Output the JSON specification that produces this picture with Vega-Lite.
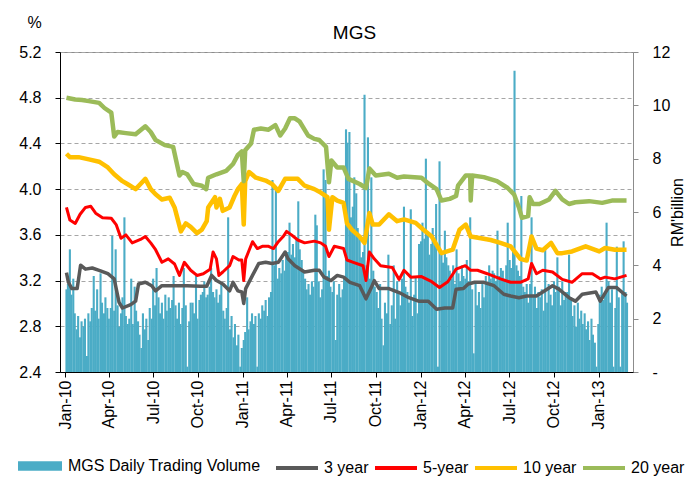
{
"$schema": "https://vega.github.io/schema/vega-lite/v6.json",
"width": 573,
"height": 320,
"autosize": {"type": "none"},
"padding": {"left": 60, "top": 52, "right": 52, "bottom": 116},
"background": "#ffffff",
"config": {
  "font": "Liberation Sans",
  "view": {"stroke": "#8c8c8c", "strokeWidth": 1},
  "axis": {"labelFont": "Liberation Sans", "labelFontSize": 16, "labelColor": "#000000", "titleFont": "Liberation Sans", "titleFontSize": 16, "titleFontWeight": "normal", "titleColor": "#000000"},
  "legend": {"labelFont": "Liberation Sans", "labelFontSize": 16, "labelColor": "#000000", "padding": 0, "labelLimit": 400}
},
"title": {"text": "MGS", "fontSize": 19, "fontWeight": "normal", "font": "Liberation Sans", "color": "#000000", "anchor": "middle", "frame": "group", "offset": 10, "dx": 8, "dy": 39},
"datasets": {
"vol": [
{"d":"2010-01-04","v":3.1},{"d":"2010-01-07","v":3.3},{"d":"2010-01-11","v":4.6},{"d":"2010-01-14","v":2.9},{"d":"2010-01-18","v":3.5},{"d":"2010-01-21","v":2.2},{"d":"2010-01-25","v":1.6},{"d":"2010-01-28","v":2.1},
{"d":"2010-02-01","v":1.3},{"d":"2010-02-04","v":1.9},{"d":"2010-02-08","v":1.7},{"d":"2010-02-11","v":2.0},{"d":"2010-02-15","v":0.6},{"d":"2010-02-18","v":2.2},{"d":"2010-02-22","v":1.9},{"d":"2010-02-25","v":2.4},
{"d":"2010-03-01","v":3.6},{"d":"2010-03-04","v":2.3},{"d":"2010-03-08","v":3.1},{"d":"2010-03-11","v":2.0},{"d":"2010-03-15","v":3.7},{"d":"2010-03-18","v":2.6},{"d":"2010-03-22","v":2.2},{"d":"2010-03-25","v":2.8},{"d":"2010-03-29","v":2.4},
{"d":"2010-04-01","v":2.0},{"d":"2010-04-05","v":2.4},{"d":"2010-04-08","v":5.1},{"d":"2010-04-12","v":2.3},{"d":"2010-04-15","v":4.6},{"d":"2010-04-19","v":2.5},{"d":"2010-04-22","v":1.7},{"d":"2010-04-26","v":2.2},{"d":"2010-04-29","v":2.8},
{"d":"2010-05-03","v":5.8},{"d":"2010-05-06","v":2.1},{"d":"2010-05-10","v":1.8},{"d":"2010-05-13","v":2.0},{"d":"2010-05-17","v":3.5},{"d":"2010-05-20","v":1.8},{"d":"2010-05-24","v":3.2},{"d":"2010-05-27","v":2.3},{"d":"2010-05-31","v":1.9},
{"d":"2010-06-03","v":1.4},{"d":"2010-06-07","v":0.9},{"d":"2010-06-10","v":2.2},{"d":"2010-06-14","v":1.6},{"d":"2010-06-17","v":2.0},{"d":"2010-06-21","v":1.2},{"d":"2010-06-24","v":2.4},{"d":"2010-06-28","v":2.0},
{"d":"2010-07-01","v":3.5},{"d":"2010-07-05","v":2.5},{"d":"2010-07-08","v":3.9},{"d":"2010-07-12","v":2.8},{"d":"2010-07-15","v":2.2},{"d":"2010-07-19","v":2.6},{"d":"2010-07-22","v":2.0},{"d":"2010-07-26","v":2.9},{"d":"2010-07-29","v":2.3},
{"d":"2010-08-02","v":2.8},{"d":"2010-08-05","v":2.4},{"d":"2010-08-09","v":2.7},{"d":"2010-08-12","v":3.6},{"d":"2010-08-16","v":2.5},{"d":"2010-08-19","v":2.0},{"d":"2010-08-23","v":2.6},{"d":"2010-08-26","v":1.8},{"d":"2010-08-30","v":2.4},
{"d":"2010-09-02","v":3.9},{"d":"2010-09-06","v":2.5},{"d":"2010-09-09","v":0.2},{"d":"2010-09-13","v":1.9},{"d":"2010-09-16","v":2.6},{"d":"2010-09-20","v":2.6},{"d":"2010-09-23","v":2.2},{"d":"2010-09-27","v":3.6},{"d":"2010-09-30","v":2.0},
{"d":"2010-10-04","v":2.7},{"d":"2010-10-07","v":2.9},{"d":"2010-10-11","v":3.0},{"d":"2010-10-14","v":3.4},{"d":"2010-10-18","v":2.8},{"d":"2010-10-21","v":2.9},{"d":"2010-10-25","v":3.2},{"d":"2010-10-28","v":3.9},
{"d":"2010-11-01","v":3.0},{"d":"2010-11-04","v":2.8},{"d":"2010-11-08","v":3.1},{"d":"2010-11-11","v":2.6},{"d":"2010-11-15","v":2.9},{"d":"2010-11-18","v":3.3},{"d":"2010-11-22","v":2.3},{"d":"2010-11-25","v":2.0},{"d":"2010-11-29","v":2.4},
{"d":"2010-12-02","v":5.8},{"d":"2010-12-06","v":1.6},{"d":"2010-12-09","v":2.1},{"d":"2010-12-13","v":1.3},{"d":"2010-12-16","v":1.8},{"d":"2010-12-20","v":1.0},{"d":"2010-12-23","v":1.4},{"d":"2010-12-27","v":0.2},{"d":"2010-12-30","v":0.9},
{"d":"2011-01-03","v":1.2},{"d":"2011-01-06","v":1.5},{"d":"2011-01-10","v":2.8},{"d":"2011-01-13","v":1.6},{"d":"2011-01-17","v":1.9},{"d":"2011-01-20","v":2.2},{"d":"2011-01-24","v":1.8},{"d":"2011-01-27","v":2.1},{"d":"2011-01-31","v":0.2},
{"d":"2011-02-03","v":2.2},{"d":"2011-02-07","v":2.0},{"d":"2011-02-10","v":2.5},{"d":"2011-02-14","v":2.3},{"d":"2011-02-17","v":2.7},{"d":"2011-02-21","v":2.1},{"d":"2011-02-24","v":2.8},{"d":"2011-02-28","v":3.0},
{"d":"2011-03-03","v":7.2},{"d":"2011-03-07","v":4.0},{"d":"2011-03-10","v":6.9},{"d":"2011-03-14","v":3.5},{"d":"2011-03-17","v":3.9},{"d":"2011-03-21","v":3.7},{"d":"2011-03-24","v":4.2},{"d":"2011-03-28","v":3.8},{"d":"2011-03-31","v":4.4},
{"d":"2011-04-04","v":4.5},{"d":"2011-04-07","v":5.6},{"d":"2011-04-11","v":4.4},{"d":"2011-04-14","v":4.8},{"d":"2011-04-18","v":4.3},{"d":"2011-04-21","v":5.0},{"d":"2011-04-25","v":6.4},{"d":"2011-04-28","v":4.6},
{"d":"2011-05-02","v":4.2},{"d":"2011-05-05","v":3.8},{"d":"2011-05-09","v":3.5},{"d":"2011-05-12","v":3.1},{"d":"2011-05-16","v":3.3},{"d":"2011-05-19","v":2.9},{"d":"2011-05-23","v":3.4},{"d":"2011-05-26","v":3.2},{"d":"2011-05-30","v":5.9},
{"d":"2011-06-02","v":5.5},{"d":"2011-06-06","v":3.4},{"d":"2011-06-09","v":2.8},{"d":"2011-06-13","v":3.1},{"d":"2011-06-16","v":7.6},{"d":"2011-06-20","v":7.2},{"d":"2011-06-23","v":3.6},{"d":"2011-06-27","v":3.8},{"d":"2011-06-30","v":3.2},
{"d":"2011-07-04","v":3.0},{"d":"2011-07-07","v":3.4},{"d":"2011-07-11","v":1.2},{"d":"2011-07-14","v":2.9},{"d":"2011-07-18","v":3.3},{"d":"2011-07-21","v":2.8},{"d":"2011-07-25","v":3.1},{"d":"2011-07-28","v":3.5},
{"d":"2011-08-01","v":9.1},{"d":"2011-08-04","v":8.6},{"d":"2011-08-08","v":9.0},{"d":"2011-08-11","v":5.8},{"d":"2011-08-15","v":6.2},{"d":"2011-08-18","v":7.3},{"d":"2011-08-22","v":6.7},{"d":"2011-08-25","v":5.4},{"d":"2011-08-29","v":5.0},
{"d":"2011-09-01","v":4.3},{"d":"2011-09-05","v":4.5},{"d":"2011-09-08","v":10.4},{"d":"2011-09-12","v":4.0},{"d":"2011-09-15","v":8.8},{"d":"2011-09-19","v":3.5},{"d":"2011-09-22","v":7.3},{"d":"2011-09-26","v":3.8},{"d":"2011-09-29","v":3.2},
{"d":"2011-10-03","v":3.0},{"d":"2011-10-06","v":2.4},{"d":"2011-10-10","v":3.3},{"d":"2011-10-13","v":2.0},{"d":"2011-10-17","v":1.0},{"d":"2011-10-20","v":2.6},{"d":"2011-10-24","v":2.2},{"d":"2011-10-27","v":4.4},{"d":"2011-10-31","v":1.8},
{"d":"2011-11-03","v":2.5},{"d":"2011-11-07","v":4.0},{"d":"2011-11-10","v":2.0},{"d":"2011-11-14","v":3.4},{"d":"2011-11-17","v":3.0},{"d":"2011-11-21","v":2.5},{"d":"2011-11-24","v":3.5},{"d":"2011-11-28","v":6.2},
{"d":"2011-12-01","v":3.2},{"d":"2011-12-05","v":3.0},{"d":"2011-12-08","v":2.6},{"d":"2011-12-12","v":6.1},{"d":"2011-12-15","v":2.1},{"d":"2011-12-19","v":2.9},{"d":"2011-12-22","v":3.6},{"d":"2011-12-26","v":2.2},{"d":"2011-12-29","v":4.8},
{"d":"2012-01-02","v":4.9},{"d":"2012-01-05","v":5.6},{"d":"2012-01-09","v":5.0},{"d":"2012-01-12","v":8.0},{"d":"2012-01-16","v":5.2},{"d":"2012-01-19","v":4.4},{"d":"2012-01-23","v":4.8},{"d":"2012-01-26","v":5.4},{"d":"2012-01-30","v":5.0},
{"d":"2012-02-02","v":6.3},{"d":"2012-02-06","v":0.2},{"d":"2012-02-09","v":7.9},{"d":"2012-02-13","v":4.5},{"d":"2012-02-16","v":4.1},{"d":"2012-02-20","v":5.3},{"d":"2012-02-23","v":4.3},{"d":"2012-02-27","v":4.0},
{"d":"2012-03-01","v":3.8},{"d":"2012-03-05","v":3.5},{"d":"2012-03-08","v":4.0},{"d":"2012-03-12","v":3.3},{"d":"2012-03-15","v":4.6},{"d":"2012-03-19","v":3.7},{"d":"2012-03-22","v":3.4},{"d":"2012-03-26","v":4.0},{"d":"2012-03-29","v":3.6},
{"d":"2012-04-02","v":3.5},{"d":"2012-04-05","v":4.2},{"d":"2012-04-09","v":3.4},{"d":"2012-04-12","v":5.8},{"d":"2012-04-16","v":3.1},{"d":"2012-04-19","v":0.7},{"d":"2012-04-23","v":3.3},{"d":"2012-04-26","v":2.5},{"d":"2012-04-30","v":3.0},
{"d":"2012-05-03","v":2.4},{"d":"2012-05-07","v":3.4},{"d":"2012-05-10","v":2.8},{"d":"2012-05-14","v":3.6},{"d":"2012-05-17","v":3.3},{"d":"2012-05-21","v":4.0},{"d":"2012-05-24","v":3.5},{"d":"2012-05-28","v":3.8},{"d":"2012-05-31","v":3.7},
{"d":"2012-06-04","v":3.4},{"d":"2012-06-07","v":5.3},{"d":"2012-06-11","v":3.6},{"d":"2012-06-14","v":3.9},{"d":"2012-06-18","v":3.8},{"d":"2012-06-21","v":3.5},{"d":"2012-06-25","v":4.0},{"d":"2012-06-28","v":5.6},
{"d":"2012-07-02","v":4.2},{"d":"2012-07-05","v":3.9},{"d":"2012-07-09","v":4.5},{"d":"2012-07-12","v":11.3},{"d":"2012-07-16","v":4.0},{"d":"2012-07-19","v":3.8},{"d":"2012-07-23","v":3.6},{"d":"2012-07-26","v":6.6},{"d":"2012-07-30","v":3.2},
{"d":"2012-08-02","v":3.0},{"d":"2012-08-06","v":3.3},{"d":"2012-08-09","v":2.6},{"d":"2012-08-13","v":3.3},{"d":"2012-08-16","v":5.8},{"d":"2012-08-20","v":2.9},{"d":"2012-08-23","v":3.2},{"d":"2012-08-27","v":2.4},{"d":"2012-08-30","v":3.0},
{"d":"2012-09-03","v":2.8},{"d":"2012-09-06","v":3.1},{"d":"2012-09-10","v":2.3},{"d":"2012-09-13","v":4.7},{"d":"2012-09-17","v":2.6},{"d":"2012-09-20","v":3.3},{"d":"2012-09-24","v":2.9},{"d":"2012-09-27","v":2.5},
{"d":"2012-10-01","v":3.4},{"d":"2012-10-04","v":3.0},{"d":"2012-10-08","v":4.3},{"d":"2012-10-11","v":3.2},{"d":"2012-10-15","v":2.5},{"d":"2012-10-18","v":3.4},{"d":"2012-10-22","v":2.7},{"d":"2012-10-25","v":3.0},{"d":"2012-10-29","v":3.0},
{"d":"2012-11-01","v":4.4},{"d":"2012-11-05","v":2.8},{"d":"2012-11-08","v":2.1},{"d":"2012-11-12","v":2.5},{"d":"2012-11-15","v":1.7},{"d":"2012-11-19","v":2.6},{"d":"2012-11-22","v":2.0},{"d":"2012-11-26","v":2.3},{"d":"2012-11-29","v":1.8},
{"d":"2012-12-03","v":2.2},{"d":"2012-12-06","v":1.6},{"d":"2012-12-10","v":1.9},{"d":"2012-12-13","v":1.2},{"d":"2012-12-17","v":2.0},{"d":"2012-12-20","v":1.4},{"d":"2012-12-24","v":1.1},{"d":"2012-12-27","v":0.2},{"d":"2012-12-31","v":1.8},
{"d":"2013-01-03","v":2.9},{"d":"2013-01-07","v":3.2},{"d":"2013-01-10","v":2.7},{"d":"2013-01-14","v":3.0},{"d":"2013-01-17","v":5.6},{"d":"2013-01-21","v":3.4},{"d":"2013-01-24","v":2.6},{"d":"2013-01-28","v":3.1},{"d":"2013-01-31","v":0.2},
{"d":"2013-02-04","v":2.4},{"d":"2013-02-07","v":4.7},{"d":"2013-02-11","v":2.8},{"d":"2013-02-14","v":0.2},{"d":"2013-02-18","v":3.0},{"d":"2013-02-21","v":4.9},{"d":"2013-02-25","v":3.0},{"d":"2013-02-28","v":2.6}
],
"yld": [
{"d":"2010-01-04","s":"3 year","y":3.27},{"d":"2010-01-08","s":"3 year","y":3.185},{"d":"2010-01-15","s":"3 year","y":3.13},{"d":"2010-01-26","s":"3 year","y":3.13},{"d":"2010-02-02","s":"3 year","y":3.335},{"d":"2010-02-12","s":"3 year","y":3.30},{"d":"2010-02-26","s":"3 year","y":3.31},{"d":"2010-03-12","s":"3 year","y":3.29},{"d":"2010-03-30","s":"3 year","y":3.26},{"d":"2010-04-12","s":"3 year","y":3.215},{"d":"2010-04-22","s":"3 year","y":3.01},{"d":"2010-04-29","s":"3 year","y":2.96},{"d":"2010-05-16","s":"3 year","y":2.99},{"d":"2010-05-26","s":"3 year","y":3.02},{"d":"2010-06-01","s":"3 year","y":3.17},{"d":"2010-06-15","s":"3 year","y":3.185},{"d":"2010-06-28","s":"3 year","y":3.155},{"d":"2010-07-06","s":"3 year","y":3.11},{"d":"2010-07-19","s":"3 year","y":3.155},{"d":"2010-08-14","s":"3 year","y":3.155},{"d":"2010-09-09","s":"3 year","y":3.155},{"d":"2010-10-06","s":"3 year","y":3.15},{"d":"2010-10-19","s":"3 year","y":3.15},{"d":"2010-10-29","s":"3 year","y":3.245},{"d":"2010-11-08","s":"3 year","y":3.20},{"d":"2010-11-21","s":"3 year","y":3.17},{"d":"2010-12-05","s":"3 year","y":3.11},{"d":"2010-12-12","s":"3 year","y":3.185},{"d":"2010-12-22","s":"3 year","y":3.11},{"d":"2010-12-30","s":"3 year","y":3.10},{"d":"2011-01-03","s":"3 year","y":3.00},{"d":"2011-01-07","s":"3 year","y":3.13},{"d":"2011-01-21","s":"3 year","y":3.245},{"d":"2011-02-03","s":"3 year","y":3.35},{"d":"2011-02-17","s":"3 year","y":3.36},{"d":"2011-03-02","s":"3 year","y":3.35},{"d":"2011-03-15","s":"3 year","y":3.36},{"d":"2011-03-29","s":"3 year","y":3.45},{"d":"2011-04-04","s":"3 year","y":3.39},{"d":"2011-04-18","s":"3 year","y":3.33},{"d":"2011-05-08","s":"3 year","y":3.275},{"d":"2011-05-28","s":"3 year","y":3.29},{"d":"2011-06-07","s":"3 year","y":3.29},{"d":"2011-06-17","s":"3 year","y":3.23},{"d":"2011-07-01","s":"3 year","y":3.20},{"d":"2011-07-14","s":"3 year","y":3.245},{"d":"2011-07-27","s":"3 year","y":3.23},{"d":"2011-08-09","s":"3 year","y":3.185},{"d":"2011-08-29","s":"3 year","y":3.155},{"d":"2011-09-11","s":"3 year","y":3.04},{"d":"2011-09-21","s":"3 year","y":3.13},{"d":"2011-09-28","s":"3 year","y":3.20},{"d":"2011-10-08","s":"3 year","y":3.13},{"d":"2011-10-28","s":"3 year","y":3.13},{"d":"2011-11-18","s":"3 year","y":3.095},{"d":"2011-12-08","s":"3 year","y":3.05},{"d":"2011-12-28","s":"3 year","y":3.02},{"d":"2012-01-17","s":"3 year","y":3.02},{"d":"2012-02-03","s":"3 year","y":2.95},{"d":"2012-02-20","s":"3 year","y":2.96},{"d":"2012-03-07","s":"3 year","y":2.96},{"d":"2012-03-14","s":"3 year","y":3.125},{"d":"2012-03-29","s":"3 year","y":3.13},{"d":"2012-04-08","s":"3 year","y":3.17},{"d":"2012-04-21","s":"3 year","y":3.185},{"d":"2012-05-10","s":"3 year","y":3.185},{"d":"2012-05-31","s":"3 year","y":3.155},{"d":"2012-06-20","s":"3 year","y":3.08},{"d":"2012-07-04","s":"3 year","y":3.065},{"d":"2012-07-21","s":"3 year","y":3.05},{"d":"2012-08-06","s":"3 year","y":3.065},{"d":"2012-08-26","s":"3 year","y":3.065},{"d":"2012-09-08","s":"3 year","y":3.10},{"d":"2012-09-28","s":"3 year","y":3.155},{"d":"2012-10-11","s":"3 year","y":3.125},{"d":"2012-11-01","s":"3 year","y":3.05},{"d":"2012-11-14","s":"3 year","y":3.02},{"d":"2012-11-28","s":"3 year","y":3.08},{"d":"2012-12-26","s":"3 year","y":3.10},{"d":"2013-01-04","s":"3 year","y":3.02},{"d":"2013-01-21","s":"3 year","y":3.14},{"d":"2013-02-06","s":"3 year","y":3.14},{"d":"2013-02-27","s":"3 year","y":3.065},
{"d":"2010-01-04","s":"5-year","y":3.84},{"d":"2010-01-11","s":"5-year","y":3.73},{"d":"2010-01-22","s":"5-year","y":3.70},{"d":"2010-02-01","s":"5-year","y":3.78},{"d":"2010-02-12","s":"5-year","y":3.84},{"d":"2010-02-23","s":"5-year","y":3.85},{"d":"2010-03-05","s":"5-year","y":3.79},{"d":"2010-03-19","s":"5-year","y":3.75},{"d":"2010-04-06","s":"5-year","y":3.745},{"d":"2010-04-16","s":"5-year","y":3.69},{"d":"2010-04-26","s":"5-year","y":3.57},{"d":"2010-05-06","s":"5-year","y":3.60},{"d":"2010-05-19","s":"5-year","y":3.53},{"d":"2010-06-05","s":"5-year","y":3.56},{"d":"2010-06-15","s":"5-year","y":3.585},{"d":"2010-06-26","s":"5-year","y":3.53},{"d":"2010-07-06","s":"5-year","y":3.47},{"d":"2010-07-19","s":"5-year","y":3.36},{"d":"2010-08-01","s":"5-year","y":3.39},{"d":"2010-08-14","s":"5-year","y":3.345},{"d":"2010-08-24","s":"5-year","y":3.245},{"d":"2010-09-03","s":"5-year","y":3.36},{"d":"2010-09-16","s":"5-year","y":3.29},{"d":"2010-09-29","s":"5-year","y":3.245},{"d":"2010-10-12","s":"5-year","y":3.26},{"d":"2010-10-26","s":"5-year","y":3.30},{"d":"2010-11-01","s":"5-year","y":3.45},{"d":"2010-11-08","s":"5-year","y":3.39},{"d":"2010-11-13","s":"5-year","y":3.245},{"d":"2010-11-21","s":"5-year","y":3.275},{"d":"2010-12-05","s":"5-year","y":3.33},{"d":"2010-12-12","s":"5-year","y":3.41},{"d":"2010-12-24","s":"5-year","y":3.38},{"d":"2010-12-30","s":"5-year","y":3.38},{"d":"2011-01-03","s":"5-year","y":3.20},{"d":"2011-01-07","s":"5-year","y":3.39},{"d":"2011-01-21","s":"5-year","y":3.54},{"d":"2011-01-31","s":"5-year","y":3.48},{"d":"2011-02-10","s":"5-year","y":3.50},{"d":"2011-02-23","s":"5-year","y":3.50},{"d":"2011-03-05","s":"5-year","y":3.48},{"d":"2011-03-15","s":"5-year","y":3.54},{"d":"2011-03-25","s":"5-year","y":3.585},{"d":"2011-04-01","s":"5-year","y":3.63},{"d":"2011-04-11","s":"5-year","y":3.60},{"d":"2011-04-24","s":"5-year","y":3.555},{"d":"2011-05-08","s":"5-year","y":3.53},{"d":"2011-05-28","s":"5-year","y":3.545},{"d":"2011-06-10","s":"5-year","y":3.53},{"d":"2011-06-20","s":"5-year","y":3.50},{"d":"2011-06-27","s":"5-year","y":3.41},{"d":"2011-07-08","s":"5-year","y":3.50},{"d":"2011-07-27","s":"5-year","y":3.48},{"d":"2011-08-03","s":"5-year","y":3.38},{"d":"2011-08-16","s":"5-year","y":3.36},{"d":"2011-09-05","s":"5-year","y":3.33},{"d":"2011-09-11","s":"5-year","y":3.20},{"d":"2011-09-18","s":"5-year","y":3.45},{"d":"2011-09-28","s":"5-year","y":3.39},{"d":"2011-10-11","s":"5-year","y":3.33},{"d":"2011-11-04","s":"5-year","y":3.315},{"d":"2011-11-18","s":"5-year","y":3.21},{"d":"2011-11-28","s":"5-year","y":3.29},{"d":"2011-12-12","s":"5-year","y":3.23},{"d":"2012-01-03","s":"5-year","y":3.235},{"d":"2012-01-24","s":"5-year","y":3.19},{"d":"2012-02-09","s":"5-year","y":3.14},{"d":"2012-02-26","s":"5-year","y":3.19},{"d":"2012-03-14","s":"5-year","y":3.30},{"d":"2012-04-02","s":"5-year","y":3.33},{"d":"2012-04-13","s":"5-year","y":3.29},{"d":"2012-04-27","s":"5-year","y":3.29},{"d":"2012-05-17","s":"5-year","y":3.26},{"d":"2012-06-13","s":"5-year","y":3.215},{"d":"2012-07-04","s":"5-year","y":3.185},{"d":"2012-07-24","s":"5-year","y":3.185},{"d":"2012-08-09","s":"5-year","y":3.215},{"d":"2012-08-16","s":"5-year","y":3.35},{"d":"2012-08-26","s":"5-year","y":3.26},{"d":"2012-09-08","s":"5-year","y":3.29},{"d":"2012-09-28","s":"5-year","y":3.275},{"d":"2012-10-18","s":"5-year","y":3.21},{"d":"2012-11-07","s":"5-year","y":3.185},{"d":"2012-11-28","s":"5-year","y":3.26},{"d":"2012-12-19","s":"5-year","y":3.26},{"d":"2013-01-04","s":"5-year","y":3.215},{"d":"2013-01-14","s":"5-year","y":3.23},{"d":"2013-02-03","s":"5-year","y":3.215},{"d":"2013-02-27","s":"5-year","y":3.245},
{"d":"2010-01-04","s":"10 year","y":4.31},{"d":"2010-01-11","s":"10 year","y":4.28},{"d":"2010-01-29","s":"10 year","y":4.28},{"d":"2010-02-19","s":"10 year","y":4.26},{"d":"2010-03-12","s":"10 year","y":4.24},{"d":"2010-03-30","s":"10 year","y":4.19},{"d":"2010-04-12","s":"10 year","y":4.13},{"d":"2010-04-29","s":"10 year","y":4.07},{"d":"2010-05-09","s":"10 year","y":4.045},{"d":"2010-05-26","s":"10 year","y":4.00},{"d":"2010-06-05","s":"10 year","y":4.045},{"d":"2010-06-15","s":"10 year","y":4.09},{"d":"2010-06-26","s":"10 year","y":4.00},{"d":"2010-07-06","s":"10 year","y":3.955},{"d":"2010-07-19","s":"10 year","y":3.91},{"d":"2010-08-04","s":"10 year","y":3.925},{"d":"2010-08-14","s":"10 year","y":3.84},{"d":"2010-08-27","s":"10 year","y":3.63},{"d":"2010-09-06","s":"10 year","y":3.70},{"d":"2010-09-16","s":"10 year","y":3.67},{"d":"2010-09-29","s":"10 year","y":3.615},{"d":"2010-10-09","s":"10 year","y":3.645},{"d":"2010-10-19","s":"10 year","y":3.72},{"d":"2010-10-22","s":"10 year","y":3.84},{"d":"2010-11-05","s":"10 year","y":3.93},{"d":"2010-11-08","s":"10 year","y":3.84},{"d":"2010-11-15","s":"10 year","y":3.915},{"d":"2010-11-21","s":"10 year","y":3.81},{"d":"2010-12-05","s":"10 year","y":3.84},{"d":"2010-12-15","s":"10 year","y":3.94},{"d":"2010-12-22","s":"10 year","y":4.00},{"d":"2010-12-30","s":"10 year","y":4.045},{"d":"2011-01-03","s":"10 year","y":3.69},{"d":"2011-01-06","s":"10 year","y":4.07},{"d":"2011-01-14","s":"10 year","y":4.15},{"d":"2011-01-28","s":"10 year","y":4.10},{"d":"2011-02-17","s":"10 year","y":4.075},{"d":"2011-03-02","s":"10 year","y":4.045},{"d":"2011-03-15","s":"10 year","y":3.985},{"d":"2011-03-29","s":"10 year","y":4.09},{"d":"2011-04-24","s":"10 year","y":4.09},{"d":"2011-05-08","s":"10 year","y":4.03},{"d":"2011-05-28","s":"10 year","y":4.00},{"d":"2011-06-10","s":"10 year","y":3.97},{"d":"2011-06-24","s":"10 year","y":3.93},{"d":"2011-06-27","s":"10 year","y":3.645},{"d":"2011-07-04","s":"10 year","y":3.93},{"d":"2011-07-14","s":"10 year","y":3.90},{"d":"2011-07-27","s":"10 year","y":3.88},{"d":"2011-08-03","s":"10 year","y":3.70},{"d":"2011-08-13","s":"10 year","y":3.645},{"d":"2011-08-29","s":"10 year","y":3.585},{"d":"2011-09-08","s":"10 year","y":3.53},{"d":"2011-09-18","s":"10 year","y":3.79},{"d":"2011-09-25","s":"10 year","y":3.69},{"d":"2011-10-08","s":"10 year","y":3.69},{"d":"2011-10-28","s":"10 year","y":3.78},{"d":"2011-11-14","s":"10 year","y":3.72},{"d":"2011-11-28","s":"10 year","y":3.735},{"d":"2011-12-22","s":"10 year","y":3.705},{"d":"2012-01-07","s":"10 year","y":3.645},{"d":"2012-01-24","s":"10 year","y":3.585},{"d":"2012-02-13","s":"10 year","y":3.44},{"d":"2012-03-07","s":"10 year","y":3.47},{"d":"2012-03-21","s":"10 year","y":3.645},{"d":"2012-04-03","s":"10 year","y":3.69},{"d":"2012-04-13","s":"10 year","y":3.585},{"d":"2012-05-04","s":"10 year","y":3.57},{"d":"2012-05-24","s":"10 year","y":3.555},{"d":"2012-06-13","s":"10 year","y":3.53},{"d":"2012-07-04","s":"10 year","y":3.50},{"d":"2012-07-24","s":"10 year","y":3.39},{"d":"2012-08-06","s":"10 year","y":3.375},{"d":"2012-08-16","s":"10 year","y":3.585},{"d":"2012-08-26","s":"10 year","y":3.48},{"d":"2012-09-08","s":"10 year","y":3.465},{"d":"2012-09-25","s":"10 year","y":3.53},{"d":"2012-10-08","s":"10 year","y":3.44},{"d":"2012-10-18","s":"10 year","y":3.44},{"d":"2012-11-07","s":"10 year","y":3.455},{"d":"2012-12-05","s":"10 year","y":3.50},{"d":"2013-01-02","s":"10 year","y":3.455},{"d":"2013-01-14","s":"10 year","y":3.485},{"d":"2013-02-03","s":"10 year","y":3.47},{"d":"2013-02-27","s":"10 year","y":3.47},
{"d":"2010-01-04","s":"20 year","y":4.80},{"d":"2010-01-22","s":"20 year","y":4.785},{"d":"2010-02-05","s":"20 year","y":4.78},{"d":"2010-02-19","s":"20 year","y":4.77},{"d":"2010-03-12","s":"20 year","y":4.755},{"d":"2010-03-23","s":"20 year","y":4.71},{"d":"2010-04-06","s":"20 year","y":4.67},{"d":"2010-04-12","s":"20 year","y":4.46},{"d":"2010-04-19","s":"20 year","y":4.50},{"d":"2010-05-06","s":"20 year","y":4.49},{"d":"2010-05-26","s":"20 year","y":4.48},{"d":"2010-06-15","s":"20 year","y":4.55},{"d":"2010-06-26","s":"20 year","y":4.50},{"d":"2010-07-06","s":"20 year","y":4.43},{"d":"2010-07-25","s":"20 year","y":4.385},{"d":"2010-08-11","s":"20 year","y":4.37},{"d":"2010-08-24","s":"20 year","y":4.12},{"d":"2010-08-30","s":"20 year","y":4.15},{"d":"2010-09-09","s":"20 year","y":4.13},{"d":"2010-09-22","s":"20 year","y":4.045},{"d":"2010-10-09","s":"20 year","y":4.03},{"d":"2010-10-18","s":"20 year","y":4.00},{"d":"2010-10-22","s":"20 year","y":4.10},{"d":"2010-11-08","s":"20 year","y":4.13},{"d":"2010-11-28","s":"20 year","y":4.16},{"d":"2010-12-12","s":"20 year","y":4.22},{"d":"2010-12-22","s":"20 year","y":4.30},{"d":"2010-12-30","s":"20 year","y":4.33},{"d":"2011-01-03","s":"20 year","y":4.07},{"d":"2011-01-06","s":"20 year","y":4.34},{"d":"2011-01-18","s":"20 year","y":4.40},{"d":"2011-01-24","s":"20 year","y":4.52},{"d":"2011-02-07","s":"20 year","y":4.53},{"d":"2011-02-23","s":"20 year","y":4.52},{"d":"2011-03-09","s":"20 year","y":4.56},{"d":"2011-03-19","s":"20 year","y":4.47},{"d":"2011-03-29","s":"20 year","y":4.53},{"d":"2011-04-08","s":"20 year","y":4.62},{"d":"2011-04-18","s":"20 year","y":4.62},{"d":"2011-04-28","s":"20 year","y":4.59},{"d":"2011-05-15","s":"20 year","y":4.47},{"d":"2011-05-28","s":"20 year","y":4.44},{"d":"2011-06-07","s":"20 year","y":4.43},{"d":"2011-06-21","s":"20 year","y":4.37},{"d":"2011-06-27","s":"20 year","y":4.06},{"d":"2011-07-02","s":"20 year","y":4.25},{"d":"2011-07-14","s":"20 year","y":4.19},{"d":"2011-07-27","s":"20 year","y":4.19},{"d":"2011-08-06","s":"20 year","y":4.09},{"d":"2011-08-29","s":"20 year","y":4.045},{"d":"2011-09-11","s":"20 year","y":4.01},{"d":"2011-09-18","s":"20 year","y":4.18},{"d":"2011-10-01","s":"20 year","y":4.12},{"d":"2011-10-28","s":"20 year","y":4.135},{"d":"2011-11-14","s":"20 year","y":4.10},{"d":"2011-11-28","s":"20 year","y":4.11},{"d":"2012-01-03","s":"20 year","y":4.10},{"d":"2012-01-17","s":"20 year","y":4.05},{"d":"2012-02-03","s":"20 year","y":4.00},{"d":"2012-02-13","s":"20 year","y":3.90},{"d":"2012-03-01","s":"20 year","y":3.915},{"d":"2012-03-14","s":"20 year","y":3.94},{"d":"2012-03-18","s":"20 year","y":4.03},{"d":"2012-04-03","s":"20 year","y":4.12},{"d":"2012-04-12","s":"20 year","y":4.12},{"d":"2012-04-13","s":"20 year","y":3.90},{"d":"2012-04-16","s":"20 year","y":4.12},{"d":"2012-05-10","s":"20 year","y":4.105},{"d":"2012-06-06","s":"20 year","y":4.07},{"d":"2012-06-28","s":"20 year","y":4.01},{"d":"2012-07-11","s":"20 year","y":3.955},{"d":"2012-07-21","s":"20 year","y":3.84},{"d":"2012-07-27","s":"20 year","y":3.75},{"d":"2012-08-09","s":"20 year","y":3.765},{"d":"2012-08-12","s":"20 year","y":3.93},{"d":"2012-08-19","s":"20 year","y":3.87},{"d":"2012-09-01","s":"20 year","y":3.87},{"d":"2012-09-21","s":"20 year","y":3.91},{"d":"2012-10-04","s":"20 year","y":3.985},{"d":"2012-10-18","s":"20 year","y":3.91},{"d":"2012-11-01","s":"20 year","y":3.87},{"d":"2012-11-14","s":"20 year","y":3.885},{"d":"2012-12-12","s":"20 year","y":3.895},{"d":"2013-01-08","s":"20 year","y":3.88},{"d":"2013-01-28","s":"20 year","y":3.90},{"d":"2013-02-27","s":"20 year","y":3.90}
]
},
"encoding": {
  "x": {"field": "d", "type": "temporal",
    "scale": {"type": "utc", "domain": ["2010-01-01", "2013-03-02"], "nice": false},
    "axis": {"title": null, "format": "%b-%y", "tickCount": {"interval": "month", "step": 3}, "labelAngle": -90, "labelPadding": 3, "tickSize": 5, "tickColor": "#000000", "domainColor": "#000000", "grid": false, "labelOverlap": false, "labelFlush": false, "zindex": 1}}
},
"layer": [
  {"data": {"name": "vol"},
   "mark": {"type": "bar", "width": 2.1},
   "encoding": {
     "y": {"field": "v", "type": "quantitative", "scale": {"domain": [0, 12], "nice": false},
       "axis": {"orient": "right", "values": [0, 2, 4, 6, 8, 10, 12], "labelExpr": "datum.value == 0 ? '-' : datum.label", "grid": false, "tickSize": 5, "labelPadding": 14, "domainColor": "#8c8c8c", "tickColor": "#8c8c8c", "title": "RM'billion", "titleAngle": 270, "titleX": 44, "titleY": 160, "titleAlign": "center", "titleBaseline": "middle"}},
     "fill": {"datum": "MGS Daily Trading Volume", "type": "nominal", "scale": {"range": ["#4BACC6"]},
       "legend": {"orient": "none", "legendX": -42, "legendY": 392, "title": null, "symbolType": "M-1,-0.22H1V0.22H-1Z", "symbolSize": 1936, "symbolStrokeWidth": 0, "labelOffset": 6}}
   }},
  {"data": {"name": "yld"},
   "encoding": {
     "y": {"field": "y", "type": "quantitative", "scale": {"domain": [2.4, 5.2], "nice": false, "zero": false},
       "axis": {"orient": "left", "values": [2.4, 2.8, 3.2, 3.6, 4.0, 4.4, 4.8, 5.2], "format": ".1f", "grid": true, "gridDash": [4, 3], "gridColor": "#a6a6a6", "tickSize": 5, "labelPadding": 14, "domainColor": "#000000", "tickColor": "#000000", "title": "%", "titleAngle": 0, "titleX": -26, "titleY": -30, "titleAlign": "center", "titleBaseline": "middle"}},
     "stroke": {"field": "s", "type": "nominal", "scale": {"domain": ["3 year", "5-year", "10 year", "20 year"], "range": ["#595959", "#ff0000", "#ffc000", "#9bbb59"]},
       "legend": {"orient": "none", "legendX": 214, "legendY": 393, "title": null, "direction": "horizontal", "columns": 4, "symbolType": "stroke", "symbolSize": 1764, "symbolStrokeWidth": 4, "labelOffset": 4, "columnPadding": -2}}
   },
   "layer": [
     {"transform": [{"filter": "datum.s == '3 year'"}], "mark": {"type": "line", "strokeWidth": 3.5, "strokeJoin": "round"}},
     {"transform": [{"filter": "datum.s == '5-year'"}], "mark": {"type": "line", "strokeWidth": 3, "strokeJoin": "round"}},
     {"transform": [{"filter": "datum.s == '10 year'"}], "mark": {"type": "line", "strokeWidth": 4.5, "strokeJoin": "round"}},
     {"transform": [{"filter": "datum.s == '20 year'"}], "mark": {"type": "line", "strokeWidth": 4.5, "strokeJoin": "round"}}
   ]}
],
"resolve": {"scale": {"y": "independent"}}
}
